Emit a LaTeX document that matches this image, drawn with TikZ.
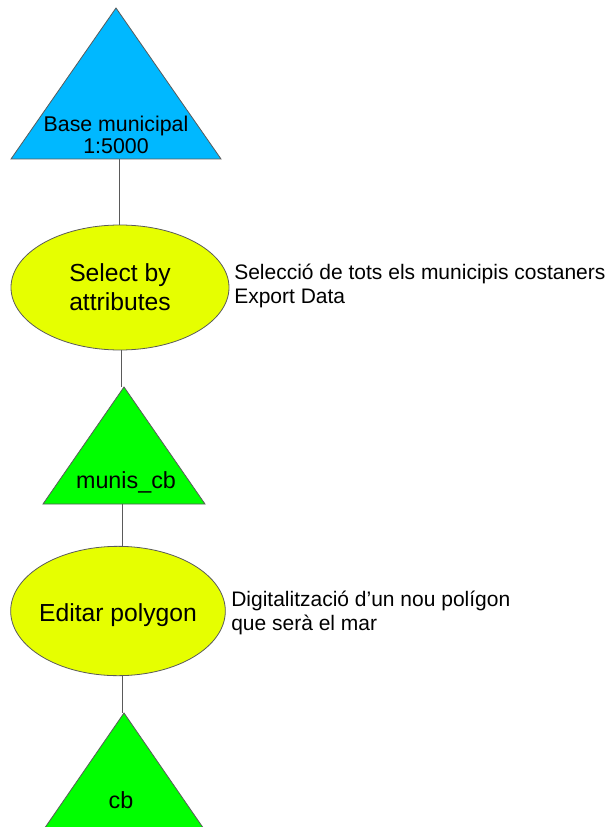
\documentclass[tikz,border=0pt]{standalone}
\usepackage{fontspec}
\setmainfont{Liberation Sans}
\usetikzlibrary{shapes.geometric}

\definecolor{layerblue}{RGB}{0,184,255}
\definecolor{layergreen}{RGB}{0,255,0}
\definecolor{toolyellow}{RGB}{230,255,0}
\definecolor{edgegray}{RGB}{90,90,90}

\begin{document}
\begin{tikzpicture}[x=0.75pt,y=-0.75pt,
    layer/.style={draw=edgegray, line width=0.6pt, line join=miter},
    tool/.style={ellipse, draw=edgegray, line width=0.6pt, fill=toolyellow,
        inner sep=0pt, align=center, font=\fontsize{18.5pt}{22pt}\selectfont},
    tag/.style={inner sep=0pt, align=center, font=\fontsize{16pt}{16.5pt}\selectfont},
    bigtag/.style={tag, font=\fontsize{17.5pt}{18pt}\selectfont},
    note/.style={anchor=west, inner sep=0pt, align=left, font=\fontsize{15.75pt}{18pt}\selectfont},
    link/.style={draw=edgegray, line width=0.75pt}]
    \useasboundingbox (0,0) rectangle (616,827);

    % data layers
    \filldraw[layer, fill=layerblue] (116,8) -- (221,159) -- (11,159) -- cycle;
    \node[tag] (base) at (116,135) {Base municipal\\1:5000};
    \coordinate (base-b) at (119,159);

    \filldraw[layer, fill=layergreen] (124,387) -- (205,504) -- (43,504) -- cycle;
    \node[bigtag] (munis) at (126,482) {munis\_cb};
    \coordinate (munis-t) at (121,387);
    \coordinate (munis-b) at (122,504);

    \filldraw[layer, fill=layergreen] (124,713) -- (206,832) -- (42,832) -- cycle;
    \node[bigtag] (cb) at (121,800) {cb};
    \coordinate (cb-t) at (122,713);

    % tools
    \node[tool, minimum width=163.5pt, minimum height=93.75pt] (sel) at (120,287.5) {Select by\\attributes};
    \node[tool, minimum width=161pt, minimum height=97pt, inner xsep=-8pt, text height=20pt] (edit) at (118,611) {Editar polygon};

    % notes
    \node[note] (selnote) at (234,286) {Selecció de tots els municipis costaners\\Export Data};
    \node[note] (editnote) at (231,613) {Digitalització d’un nou polígon\\que serà el mar};

    \draw[link] (base-b) -- (base-b |- sel.north);
    \draw[link] (sel.south -| munis-t) -- (munis-t);
    \draw[link] (munis-b) -- (munis-b |- edit.north);
    \draw[link] (edit.south -| cb-t) -- (cb-t);
\end{tikzpicture}
\end{document}
